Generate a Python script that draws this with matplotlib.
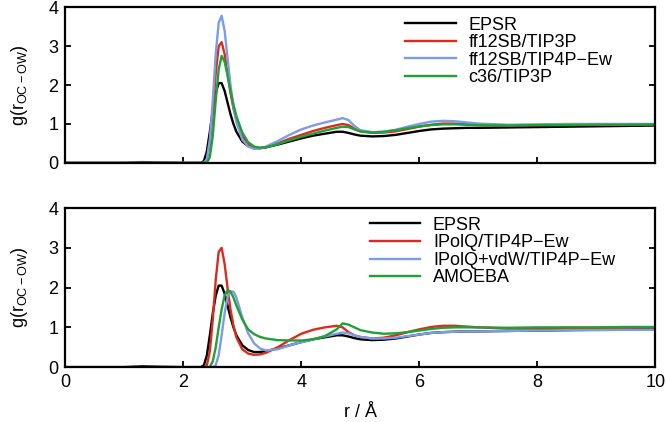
import numpy as np
import matplotlib
matplotlib.use("Agg")
import matplotlib.pyplot as plt

plt.rcParams["font.family"] = ["Liberation Sans", "DejaVu Sans"]
plt.rcParams["mathtext.fontset"] = "custom"
plt.rcParams["mathtext.rm"] = "Liberation Sans"
plt.rcParams["mathtext.it"] = "Liberation Sans"

# --- datos ---
r = [0.0, 1.0, 1.3, 1.6, 2.0, 2.2, 2.3, 2.35, 2.4, 2.45, 2.5, 2.55, 2.6, 2.65,
     2.7, 2.75, 2.8, 2.85, 2.9, 3.0, 3.1, 3.2, 3.3, 3.4, 3.6, 3.8, 4.0, 4.2,
     4.4, 4.6, 4.7, 4.8, 4.9, 5.0, 5.2, 5.4, 5.6, 5.8, 6.0, 6.2, 6.4, 6.6,
     6.8, 7.0, 7.5, 8.0, 8.5, 9.0, 9.5, 10.0]

epsr = [0, 0, 0.02, 0.01, 0, 0, 0, 0.05, 0.3, 0.8, 1.35, 1.8, 2.05, 2.05,
        1.85, 1.55, 1.25, 1.0, 0.8, 0.55, 0.43, 0.38, 0.38, 0.40, 0.47, 0.55,
        0.63, 0.70, 0.75, 0.80, 0.80, 0.77, 0.73, 0.70, 0.68, 0.69, 0.72, 0.77,
        0.82, 0.86, 0.88, 0.89, 0.90, 0.90, 0.91, 0.92, 0.93, 0.94, 0.95, 0.96]

ff12sb_tip3p = [0, 0, 0, 0, 0, 0, 0, 0, 0.1, 0.5, 1.3, 2.3, 3.0, 3.1,
                2.8, 2.3, 1.8, 1.4, 1.1, 0.7, 0.48, 0.40, 0.38, 0.40, 0.50, 0.62,
                0.72, 0.82, 0.90, 0.97, 1.0, 0.97, 0.88, 0.81, 0.77, 0.78, 0.81, 0.87,
                0.93, 0.98, 1.01, 1.01, 0.99, 0.97, 0.96, 0.97, 0.98, 0.98, 0.99, 0.99]

ff12sb_tip4pew = [0, 0, 0, 0, 0, 0, 0, 0, 0.1, 0.6, 1.6, 2.8, 3.6, 3.78,
                  3.4, 2.7, 2.0, 1.45, 1.05, 0.6, 0.42, 0.36, 0.37, 0.42, 0.56, 0.72,
                  0.86, 0.96, 1.04, 1.11, 1.15, 1.10, 0.95, 0.84, 0.79, 0.80, 0.85, 0.93,
                  1.0, 1.06, 1.08, 1.07, 1.04, 1.01, 0.98, 0.99, 1.0, 1.0, 1.0, 1.0]

c36_tip3p = [0, 0, 0, 0, 0, 0, 0, 0, 0, 0.15, 0.7, 1.6, 2.4, 2.75,
             2.6, 2.25, 1.85, 1.5, 1.2, 0.78, 0.53, 0.42, 0.39, 0.40, 0.48, 0.58,
             0.67, 0.75, 0.83, 0.90, 0.93, 0.92, 0.86, 0.81, 0.78, 0.80, 0.84, 0.89,
             0.94, 0.97, 0.99, 0.99, 0.98, 0.97, 0.96, 0.97, 0.97, 0.98, 0.98, 0.99]

ipolq_tip4pew = [0, 0, 0, 0, 0, 0, 0, 0, 0.05, 0.4, 1.2, 2.2, 2.9, 3.0,
                 2.6, 2.0, 1.45, 1.05, 0.75, 0.45, 0.34, 0.31, 0.32, 0.36, 0.50, 0.68,
                 0.84, 0.94, 1.0, 1.04, 1.0, 0.88, 0.80, 0.76, 0.72, 0.74, 0.80, 0.88,
                 0.95, 1.01, 1.04, 1.04, 1.02, 1.0, 0.97, 0.98, 0.99, 0.99, 1.0, 1.0]

ipolq_vdw_tip4pew = [0, 0, 0, 0, 0, 0, 0, 0, 0, 0, 0, 0.05, 0.3, 0.8,
                     1.35, 1.75, 1.9, 1.9, 1.75, 1.25, 0.85, 0.6, 0.47, 0.42, 0.45, 0.55,
                     0.63, 0.70, 0.77, 0.84, 0.87, 0.85, 0.80, 0.76, 0.72, 0.72, 0.74, 0.78,
                     0.82, 0.86, 0.88, 0.89, 0.90, 0.90, 0.91, 0.92, 0.93, 0.93, 0.94, 0.94]

amoeba = [0, 0, 0, 0, 0, 0, 0, 0, 0, 0, 0.15, 0.5, 1.0, 1.45,
          1.8, 1.93, 1.9, 1.75, 1.55, 1.2, 0.95, 0.83, 0.76, 0.72, 0.68, 0.67,
          0.67, 0.70, 0.78, 0.95, 1.10, 1.07, 1.0, 0.93, 0.87, 0.84, 0.85, 0.88,
          0.92, 0.96, 0.99, 1.0, 1.0, 1.0, 0.99, 1.0, 1.0, 1.0, 1.01, 1.01]

top_series = [("EPSR", epsr), ("ff12SB/TIP3P", ff12sb_tip3p),
              ("ff12SB/TIP4P\u2212Ew", ff12sb_tip4pew), ("c36/TIP3P", c36_tip3p)]
bottom_series = [("EPSR", epsr), ("IPolQ/TIP4P\u2212Ew", ipolq_tip4pew),
                 ("IPolQ+vdW/TIP4P\u2212Ew", ipolq_vdw_tip4pew), ("AMOEBA", amoeba)]

colores = ["#000000", "#dc2b1e", "#7b9de4", "#22a037"]
FS = 13

fig = plt.figure(figsize=(6.66, 4.22), dpi=100)
ax1 = fig.add_axes([0.098, 0.614, 0.886, 0.369])
ax2 = fig.add_axes([0.098, 0.130, 0.886, 0.377])


def dibujar(ax, series, leg_x, leg_y):
    for (nombre, g), c in zip(series, colores):
        ax.plot(r, g, color=c, lw=1.7, label=nombre)
    ax.set_xlim(0, 10)
    ax.set_ylim(0, 4)
    ax.set_xticks([0, 2, 4, 6, 8, 10])
    ax.set_yticks([0, 1, 2, 3, 4])
    ax.tick_params(direction="in", length=4, width=1.3, labelsize=FS,
                   right=True, top=False, pad=5)
    for s in ax.spines.values():
        s.set_linewidth(1.6)
    ax.set_ylabel("g(r$_{\\mathregular{OC-OW}}$)", fontsize=FS, labelpad=13)
    ax.legend(loc="upper left", bbox_to_anchor=(leg_x, leg_y), frameon=False,
              fontsize=FS, handlelength=2.8, handletextpad=0.7,
              labelspacing=0.03, borderpad=0, borderaxespad=0)


dibujar(ax1, top_series, 0.576, 0.94)
dibujar(ax2, bottom_series, 0.516, 0.945)
ax1.tick_params(labelbottom=False)
ax2.set_xlabel("r / \u00c5", fontsize=FS, labelpad=9)

fig.savefig("out.png", dpi=100)
